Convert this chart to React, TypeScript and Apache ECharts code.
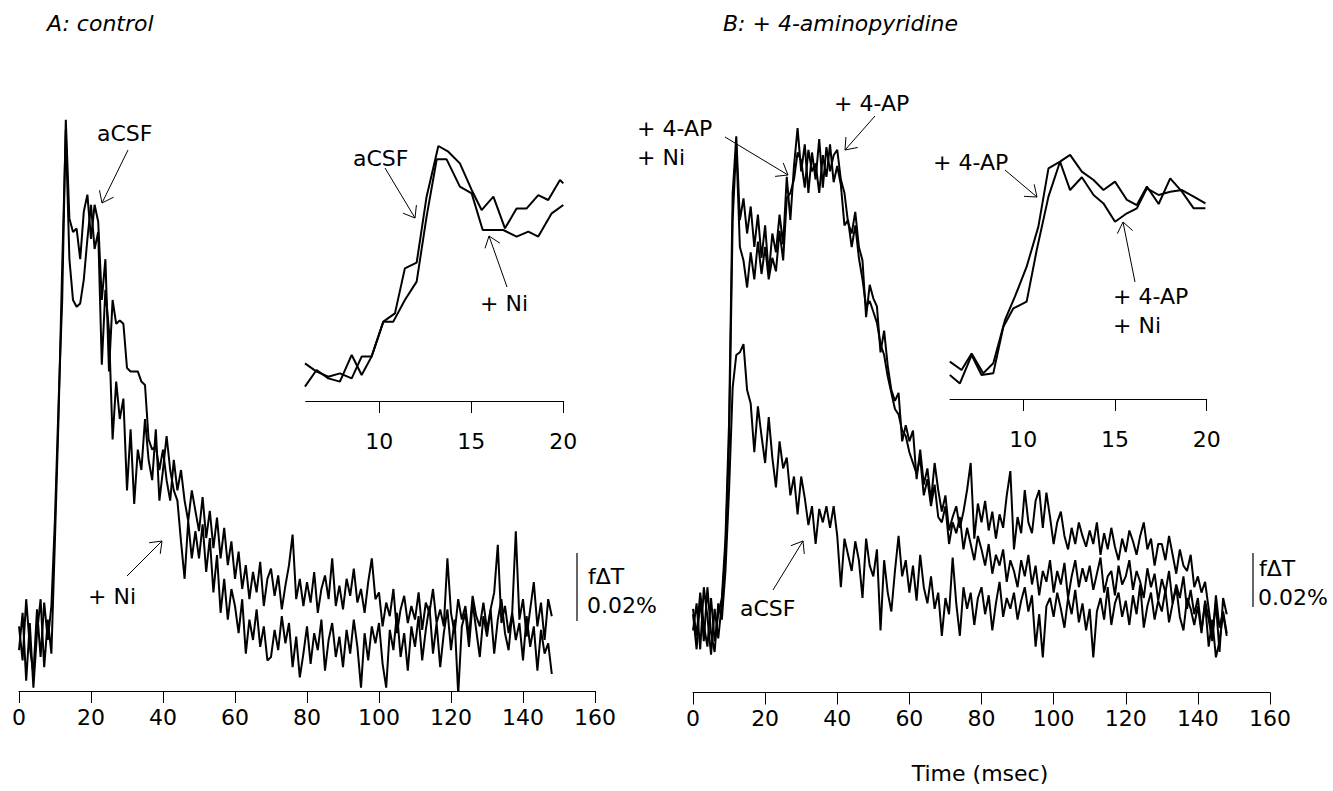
import React, { useEffect, useRef } from "react";
import * as echarts from "echarts";

// sampling interval of the recorded traces (ms)
const SAMPLE_MS = 1;

// Panel A (control), fΔT in units of 0.001 %
const A_ACSF = [
  4, -6, 12, -2, -10, 9, -5, 11, 0, 10,
  36, 70, 100, 153, 124, 120, 121, 112, 126, 131,
  118, 128, 123, 100, 112, 79, 100, 93, 94, 93,
  80, 79, 79, 79, 76, 75, 59, 56, 57, 50,
  56, 47, 41, 53, 44, 50, 41, 35, 44, 38,
  32, 42, 30, 38, 27, 36, 24, 33, 22, 29,
  18, 26, 15, 22, 12, 20, 14, 23, 10, 18,
  21, 13, 19, 9, 16, 22, 31, 12, 18, 10,
  17, 11, 20, 8, 15, 19, 12, 24, 10, 16,
  9, 18, 13, 21, 11, 15, 8, 17, 24, 12,
  14, 4, 11, 7, 15, 2, 9, 13, 5, 10,
  6, 14, 3, 11, 8, 15, 5, 9, 4, 24,
  8, 2, 12, 6, 10, 1, 13, 7, 4, 11,
  3, 9, 14, 28, 5, 10, 2, 8, 32, 6,
  12, 1, 9, 17, 4, 11, 0, 12, 7,
];
const A_NI = [
  -3, 8, -12, 5, -14, 2, 12, -8, 6, -4,
  30, 66, 110, 150, 112, 100, 98, 99, 106, 118,
  128, 115, 120, 81, 103, 91, 59, 76, 65, 71,
  44, 62, 40, 56, 50, 65, 53, 47, 62, 41,
  50, 60, 50, 44, 41, 29, 18, 35, 24, 32,
  24, 34, 20, 30, 14, 25, 8, 18, 6, 15,
  10, 2, 12, -4, 6, 0, 9, -2, 4, -6,
  -5, 3, -3, 7, -1, 5, -8, 1, -11, -4,
  4, -7, 2, -3, 6, -9, 0, 5, -5, 1,
  -8, 3, -4, 6, -2, -14, 2, -6, 4, -1,
  5, -7, -14, 3, -3, 8, -5, 2, -9, 4,
  -2, 7, -6, 3, 10, -4, 5, -8, 2, 9,
  -3, 6, -16, 4, 8, -2, 11, 3, -5, 7,
  1, 9, -4, 6, 12, 2, -3, 8, 0, 5,
  -6, 7, -2, 4, -9, 3, -4, -1, -10,
];

// Panel B (+ 4-aminopyridine)
const B_ACSF = [
  4, -9, 10, -6, 14, -3, -10, 8, 2, 20,
  50, 88, 100, 101, 104, 87, 82, 64, 81, 70,
  60, 77, 62, 51, 68, 58, 62, 48, 55, 41,
  55, 47, 37, 44, 30, 43, 38, 44, 36, 44,
  33, 14, 32, 26, 20, 31, 24, 10, 32, 22,
  18, 28, -2, 24, 12, 5, 20, 33, 18, 24,
  12, 22, 9, 26, 14, 8, 18, 6, 12, -4,
  10, 4, 25, 8, -4, 14, 6, 12, 0, 10,
  14, 4, 11, -2, 8, 16, 3, 10, 6, 12,
  2, 9, 14, 5, 11, -8, 4, -12, 7, 10,
  3, 12, 6, -1, 10, 4, 13, 1, 8, -2,
  6, -12, 5, 10, 2, 14, 0, 8, 12, 3,
  9, 0, 11, 4, 15, -1, 7, 12, 2, 9,
  5, 13, 1, 8, 14, 3, -2, 10, 6, 0,
  7, -3, 9, 2, -6, 11, -1, 5, -3,
];
const B_4AP = [
  6, -4, 12, 0, -8, 10, -6, 4, 10, 32,
  75, 160, 181, 150, 158, 145, 155, 140, 152, 136,
  148, 130, 145, 138, 152, 141, 166, 150, 170, 184,
  168, 178, 160, 175, 165, 180, 162, 177, 168, 174,
  176, 165, 160, 149, 145, 153, 140, 135, 114, 126,
  121, 118, 101, 109, 96, 87, 83, 86, 68, 74,
  68, 72, 54, 65, 52, 58, 46, 60, 50, 42,
  48, 35, 40, 44, 36, 42, 50, 60, 32, 45,
  38, 46, 35, 42, 32, 41, 36, 48, 57, 28,
  40, 34, 50, 38, 34, 46, 50, 36, 49, 40,
  30, 38, 42, 33, 28, 36, 30, 38, 33, 29,
  35, 30, 38, 26, 34, 28, 36, 29, 24, 32,
  27, 35, 31, 26, 33, 38, 28, 32, 22, 30,
  30, 24, 33, 26, 19, 28, 22, 20, 26, 14,
  18, 12, 16, 6, -4, 8, -10, 10, 4,
];
const B_4AP_NI = [
  -2, 8, -9, 14, 3, -11, 6, -5, 8, 28,
  68, 150, 178, 140, 135, 125, 138, 128, 142, 130,
  140, 128, 136, 131, 146, 135, 158, 160, 165, 175,
  172, 162, 176, 168, 171, 160, 174, 166, 178, 164,
  170, 163, 148, 150, 140, 148, 136, 128, 118, 120,
  116, 112, 104, 100, 92, 86, 80, 78, 72, 70,
  64, 60, 56, 62, 48, 54, 44, 52, 40, 38,
  44, 30, 38, 34, 40, 28, 36, 30, 24, 33,
  28, 22, 30, 19, 26, 22, 28, 16, 24, 20,
  14, 24, 18, 26, 15, 22, 11, 20, 16, 24,
  12, 20, 15, 23, 10, 18, 24, 14, 21, 16,
  22, 13, 19, 25, 12, 18, 20, 11, 22, 15,
  18, 24, 13, 20, 16, 10, 21, 14, 19, 9,
  17, 12, 20, 8, 15, 10, 18, 6, 13, 4,
  10, -2, 8, -8, 2, -12, -6, 4, -4,
];

// Insets (expanded time scale, 6–20 ms)
const INSET_A_ACSF_T = [5.96, 6.59, 7.23, 7.86, 8.5, 9.04, 9.58, 10.22, 10.85, 11.39, 12.03, 12.57, 13.21, 13.75, 14.38, 15.02, 15.56, 16.2, 16.83, 17.46, 18.01, 18.64, 19.18, 19.82, 20.0];
const INSET_A_ACSF_V = [11.1, 5.6, 2.2, 4.4, 1.1, 15.6, 15.6, 38.9, 44.4, 74.4, 78.2, 122.2, 156, 152.2, 144.4, 126.7, 113.3, 122.2, 101.1, 114.4, 114.4, 123.3, 120, 133.3, 131.1];
const INSET_A_NI_T = [5.96, 6.59, 7.23, 7.86, 8.5, 9.04, 9.58, 10.22, 10.76, 11.39, 12.03, 12.57, 13.12, 13.66, 14.38, 15.02, 15.62, 16.2, 16.74, 17.46, 18.1, 18.64, 19.37, 20.0];
const INSET_A_NI_V = [-4.4, 6.7, 1.1, -1.1, 16.7, 3.3, 15.6, 38.9, 38.9, 53.3, 65.6, 108.9, 147.1, 147.1, 128.9, 124.4, 100, 100, 100, 95.6, 98.9, 95.6, 111.1, 116.7];
const INSET_B_4AP_T = [5.99, 6.63, 7.18, 7.81, 8.36, 9.0, 9.54, 10.18, 10.82, 11.37, 12.0, 12.55, 13.19, 13.83, 14.37, 15.0, 15.65, 16.19, 16.74, 17.38, 18.01, 18.65, 19.29, 19.93];
const INSET_B_4AP_V = [8.9, 3.3, 14.4, 1.1, 7.8, 36.7, 52.2, 72.2, 98.9, 137.8, 142.2, 146.7, 135.6, 130, 123.3, 128.9, 116.7, 113.3, 125.6, 114, 131.1, 122.2, 111.1, 111.1];
const INSET_B_4AP_NI_T = [5.99, 6.54, 7.18, 7.72, 8.36, 8.91, 9.45, 10.18, 10.73, 11.37, 12.0, 12.55, 13.19, 13.83, 14.37, 15.0, 15.65, 16.19, 16.74, 17.38, 18.01, 18.65, 19.29, 19.93];
const INSET_B_4AP_NI_V = [0, -5.6, 13.3, 0, 1.1, 32.2, 44.4, 48.9, 83.3, 118.9, 142.2, 123.3, 131.8, 120, 114.4, 102.2, 107.8, 111.1, 124.4, 120, 122.2, 123.3, 118.9, 114.4];

const MAIN_TICKS = [0, 20, 40, 60, 80, 100, 120, 140, 160];
const INSET_TICKS = [10, 15, 20];

const FONT = '"DejaVu Sans", "Liberation Sans", sans-serif';

function traceSeries(values: number[], idx: number) {
  return {
    type: "line",
    xAxisIndex: idx,
    yAxisIndex: idx,
    data: values.map((v, i) => [i * SAMPLE_MS, v]),
    showSymbol: false,
    symbol: "none",
    lineStyle: { color: "#000", width: 2 },
    silent: true,
  };
}
function insetSeries(t: number[], v: number[], idx: number) {
  return {
    type: "line",
    xAxisIndex: idx,
    yAxisIndex: idx,
    data: t.map((x, i) => [x, v[i]]),
    showSymbol: false,
    symbol: "none",
    lineStyle: { color: "#000", width: 2 },
    silent: true,
  };
}

function arrow(x1: number, y1: number, x2: number, y2: number, len = 13, spread = 0.65) {
  const ang = Math.atan2(y1 - y2, x1 - x2);
  const p1 = [x2 + len * Math.cos(ang + spread), y2 + len * Math.sin(ang + spread)];
  const p2 = [x2 + len * Math.cos(ang - spread), y2 + len * Math.sin(ang - spread)];
  return [
    { type: "line", shape: { x1, y1, x2, y2 }, style: { stroke: "#000", lineWidth: 1 }, silent: true },
    { type: "polyline", shape: { points: [p1, [x2, y2], p2] }, style: { stroke: "#000", fill: null, lineWidth: 1 }, silent: true },
  ];
}
function label(text: string, x: number, y: number, size = 22, style = "", align = "left") {
  return {
    type: "text",
    x,
    y,
    silent: true,
    style: {
      text,
      fill: "#000",
      font: `${style} ${size}px ${FONT}`.trim(),
      textAlign: align,
      textVerticalAlign: "middle",
    },
  };
}

function mainX(gridIndex: number) {
  return {
    type: "value",
    gridIndex,
    min: 0,
    max: 160,
    interval: 20,
    axisLine: { show: true, onZero: false, lineStyle: { color: "#000", width: 1 } },
    axisTick: { show: true, length: 12, lineStyle: { color: "#000", width: 1 } },
    axisLabel: { color: "#000", fontSize: 22, fontFamily: FONT, margin: 15, customValues: MAIN_TICKS },
    splitLine: { show: false },
  };
}
function insetX(gridIndex: number) {
  return {
    type: "value",
    gridIndex,
    min: 6,
    max: 20,
    axisLine: { show: true, onZero: false, lineStyle: { color: "#000", width: 1 } },
    axisTick: { show: true, length: 12, customValues: INSET_TICKS, lineStyle: { color: "#000", width: 1 } },
    axisLabel: { color: "#000", fontSize: 22, fontFamily: FONT, margin: 29, customValues: INSET_TICKS },
    splitLine: { show: false },
  };
}
function hiddenY(gridIndex: number, min: number, max: number) {
  return { type: "value", gridIndex, min, max, show: false, splitLine: { show: false } };
}

export default function App() {
  const ref = useRef<HTMLDivElement>(null);
  useEffect(() => {
    if (!ref.current) return;
    const chart = echarts.init(ref.current, null, { renderer: "svg" });
    const graphic: any[] = [
      label("A: control", 47, 23, 22, "italic"),
      label("B: + 4-aminopyridine", 723, 23, 22, "italic"),
      label("Time (msec)", 980, 773, 22, "", "center"),
      // panel A annotations
      label("aCSF", 97, 133),
      ...arrow(128, 150, 102, 203),
      label("+ Ni", 88, 596),
      ...arrow(127, 576, 162, 541),
      label("aCSF", 353, 158),
      ...arrow(385, 168, 415, 218),
      label("+ Ni", 480, 303),
      ...arrow(507, 287, 489, 236),
      { type: "line", shape: { x1: 577, y1: 553, x2: 577, y2: 621 }, style: { stroke: "#000", lineWidth: 1.2 }, silent: true },
      label("f\u0394T", 588, 576),
      label("0.02%", 587, 605),
      // panel B annotations
      label("+ 4-AP", 834, 103),
      ...arrow(875, 116, 845, 150),
      label("+ 4-AP", 637, 128),
      label("+ Ni", 637, 157),
      ...arrow(725, 137, 788, 175),
      label("+ 4-AP", 933, 162),
      ...arrow(1005, 170, 1037, 197),
      label("+ 4-AP", 1113, 296),
      label("+ Ni", 1113, 325),
      ...arrow(1135, 282, 1123, 222),
      label("aCSF", 740, 608),
      ...arrow(773, 590, 803, 541),
      { type: "line", shape: { x1: 1253, y1: 553, x2: 1253, y2: 607 }, style: { stroke: "#000", lineWidth: 1.2 }, silent: true },
      label("f\u0394T", 1259, 568),
      label("0.02%", 1258, 597),
    ];
    chart.setOption({
      animation: false,
      backgroundColor: "#fff",
      grid: [
        { left: 19, width: 576, top: 96, height: 595, containLabel: false, outerBoundsMode: "none" },
        { left: 693, width: 577, top: 85, height: 607.5, containLabel: false, outerBoundsMode: "none" },
        { left: 305.7, width: 257.6, top: 140, height: 261, containLabel: false, outerBoundsMode: "none" },
        { left: 950, width: 256.7, top: 135, height: 264, containLabel: false, outerBoundsMode: "none" },
      ],
      xAxis: [mainX(0), mainX(1), insetX(2), insetX(3)],
      yAxis: [hiddenY(0, -15, 160), hiddenY(1, -25, 200), hiddenY(2, -14, 160), hiddenY(3, -16, 160)],
      series: [
        traceSeries(A_ACSF, 0),
        traceSeries(A_NI, 0),
        traceSeries(B_ACSF, 1),
        traceSeries(B_4AP, 1),
        traceSeries(B_4AP_NI, 1),
        insetSeries(INSET_A_ACSF_T, INSET_A_ACSF_V, 2),
        insetSeries(INSET_A_NI_T, INSET_A_NI_V, 2),
        insetSeries(INSET_B_4AP_T, INSET_B_4AP_V, 3),
        insetSeries(INSET_B_4AP_NI_T, INSET_B_4AP_NI_V, 3),
      ],
      graphic,
    });
    return () => chart.dispose();
  }, []);
  return (
    <div
      ref={ref}
      style={{ position: "absolute", left: 0, top: 0, width: 1333, height: 791, background: "#fff" }}
    />
  );
}
